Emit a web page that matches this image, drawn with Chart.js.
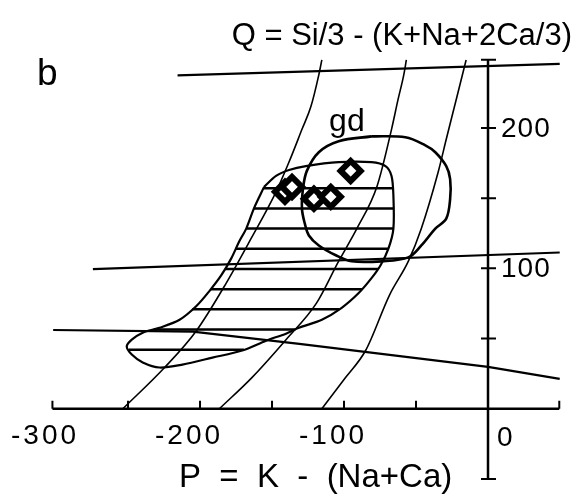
<!DOCTYPE html>
<html>
<head>
<meta charset="utf-8">
<script src="https://cdn.jsdelivr.net/npm/chart.js@4.4.1/dist/chart.umd.min.js"></script>
<style>
  html, body { margin: 0; padding: 0; background: #fff; }
  #wrap { width: 576px; height: 495px; }
</style>
</head>
<body>
<div id="wrap"><canvas id="chart" width="576" height="495"></canvas></div>
<script>
// ---- data: [P, Q] pairs ----
const curveA = [[-253.6,0],[-224.6,29.4],[-202.5,55.6],[-181.8,89.5],[-164.5,121.3],[-147.2,154.5],[-138.2,175.7],[-129.2,199.0],[-123.0,215.2],[-117.5,237.8],[-115.4,248.4]];
const curveB = [[-186.6,0],[-163.8,22.4],[-140.3,49.2],[-119.0,75.4],[-103.7,105.1],[-91.0,128.4],[-77.0,158.7],[-67.0,199.0],[-62.5,220.1],[-58.5,237.8],[-56.7,248.4]];
const curveC = [[-115.4,0],[-98.8,22.4],[-85.0,41.5],[-68.4,81.0],[-55.3,105.1],[-46.3,128.4],[-34.6,168.6],[-29.0,191.9],[-22.1,220.1],[-15.2,248.4]];

const topLine = [[-215.6,237.4],[49.8,245.6]];
const midLine = [[-274.4,99.4],[49.8,111.3]];
const lowLine = [[-302,56.1],[-205,55.0],[-131,46.2],[0,29.8],[49.8,21.3]];

// gd field outline
const gdField = [[-80.9,194.0],[-57.4,193.3],[-43.5,187.6],[-36.6,182.7],[-29.0,172.8],[-26.3,163.6],[-26.3,149.5],[-29.0,135.4],[-36.6,128.3],[-46.3,116.3],[-55.3,107.8],[-73.9,105.0],[-94.7,105.0],[-105.7,109.3],[-117.5,116.3],[-124.4,123.4],[-127.2,131.8],[-129.2,142.4],[-128.5,156.6],[-125.8,169.4],[-117.5,182.7],[-103.7,190.5],[-80.9,194.0]];

// hatched field outline
const hatchField = [[-155.5,158.0],[-147.2,165.8],[-138.2,170.0],[-126.5,172.8],[-103.7,175.6],[-80.9,175.6],[-71.2,172.8],[-67.0,165.8],[-65.7,151.6],[-65.7,128.3],[-69.1,114.2],[-74.6,102.2],[-80.9,93.0],[-89.8,82.4],[-101.6,71.9],[-115.4,63.4],[-131.3,57.7],[-140.3,53.5],[-154.1,48.5],[-170.7,41.5],[-191.4,36.4],[-212.2,31.5],[-228.1,29.4],[-239.8,33.0],[-247.4,38.6],[-250.9,44.3],[-247.4,49.2],[-239.8,54.2],[-228.1,57.7],[-214.2,63.4],[-202.5,73.2],[-193.5,83.8],[-185.2,95.1],[-178.3,107.1],[-172.8,119.1],[-167.9,128.3],[-162.4,143.1],[-155.5,158.0]];
const hatchLevels = [42.0, 56.5, 70.8, 85.1, 99.5, 113.9, 128.3, 142.7, 157.0];

// samples
const sampleP = [-141.0, -136.1, -120.9, -109.2, -95.4];
const sampleQ = [154.5, 158.0, 149.5, 150.9, 169.4];

// axes
const xAxisRange = [-302.5, 49.5];
const yAxisRange = [-50, 248.5];
const xTickValues = [-250, -200, -150, -100, -50];
const yTickValues = [50, 100, 150, 200];
const xTickLabels = [-300, -200, -100];
const yTickLabels = [100, 200];

const toPts = arr => arr.map(([x, y]) => ({ x, y }));

// horizontal hatch segments clipped to the field outline
function hatchSegments() {
	const out = [];
	hatchLevels.forEach(q => {
		const xs = [];
		for (let i = 0; i < hatchField.length - 1; i++) {
			const [x1, y1] = hatchField[i], [x2, y2] = hatchField[i + 1];
			if ((y1 - q) * (y2 - q) < 0 || (y1 === q && y2 !== q)) {
				xs.push(x1 + (q - y1) * (x2 - x1) / (y2 - y1));
			}
		}
		xs.sort((a, b) => a - b);
		for (let k = 0; k + 1 < xs.length; k += 2) {
			out.push({ x: xs[k], y: q }, { x: xs[k + 1], y: q }, { x: xs[k + 1], y: null });
		}
	});
	return out;
}

const FONT = '"Liberation Sans", Arial, sans-serif';

const lineDs = (data, width, extra = {}) => Object.assign({
	data, showLine: true, borderColor: '#000', borderWidth: width,
	pointRadius: 0, pointHoverRadius: 0, fill: false, clip: false, tension: 0
}, extra);

const textPlugin = {
	id: 'diagramText',
	afterDatasetsDraw(chart) {
		const { ctx, scales: { x, y } } = chart;
		const x0 = x.getPixelForValue(0), y0 = y.getPixelForValue(0);
		ctx.save();
		ctx.strokeStyle = '#000';
		ctx.lineCap = 'butt';

		// axis lines
		ctx.lineWidth = 2.5;
		ctx.beginPath();
		ctx.moveTo(x.getPixelForValue(xAxisRange[0]), y0);
		ctx.lineTo(x.getPixelForValue(xAxisRange[1]), y0);
		ctx.moveTo(x0, y.getPixelForValue(yAxisRange[0]));
		ctx.lineTo(x0, y.getPixelForValue(yAxisRange[1]));
		ctx.stroke();

		// ticks
		ctx.lineWidth = 2;
		ctx.beginPath();
		[...xTickValues, ...xAxisRange].forEach(v => {
			const px = x.getPixelForValue(v);
			ctx.moveTo(px, y0);
			ctx.lineTo(px, y0 - 8);
		});
		[...yTickValues, ...yAxisRange].forEach(v => {
			const py = y.getPixelForValue(v);
			ctx.moveTo(x0 - 7, py);
			ctx.lineTo(x0 + 8, py);
		});
		ctx.stroke();

		ctx.fillStyle = '#000';
		ctx.textBaseline = 'middle';

		// tick labels
		ctx.font = '28px ' + FONT;
		ctx.letterSpacing = '3px';
		ctx.textAlign = 'center';
		xTickLabels.forEach(v => ctx.fillText(String(v), x.getPixelForValue(v) - 11, y0 + 27));
		ctx.textAlign = 'left';
		ctx.fillText('0', x0 + 9, y0 + 29);
		ctx.letterSpacing = '1px';
		yTickLabels.forEach(v => ctx.fillText(String(v), x0 + 13, y.getPixelForValue(v) + 1));
		ctx.letterSpacing = '0px';

		// field label
		ctx.font = '32px ' + FONT;
		ctx.textAlign = 'center';
		ctx.textBaseline = 'alphabetic';
		ctx.fillText('gd', x.getPixelForValue(-98), y.getPixelForValue(198));

		// axis titles and panel letter
		ctx.textAlign = 'right';
		ctx.font = '31px ' + FONT;
		ctx.fillText('Q = Si/3 - (K+Na+2Ca/3)', 572, 45);
		ctx.textAlign = 'left';
		ctx.font = '33px ' + FONT;
		ctx.fillText('P  =  K  -  (Na+Ca)', 179, 487);
		ctx.font = '37px ' + FONT;
		ctx.fillText('b', 37, 85);
		ctx.restore();
	}
};

new Chart(document.getElementById('chart'), {
	type: 'scatter',
	data: {
		datasets: [
			{
				data: sampleP.map((p, i) => ({ x: p, y: sampleQ[i] })),
				pointStyle: 'rectRot', pointRadius: 10, pointHoverRadius: 10,
				pointBorderWidth: 6, pointBackgroundColor: '#fff', pointBorderColor: '#000',
				clip: false
			},
			lineDs(hatchSegments(), 2.5, { spanGaps: false }),
			lineDs(toPts(hatchField), 2.2, { tension: 0.3 }),
			lineDs(toPts(gdField), 2.6, { tension: 0.35 }),
			lineDs(toPts(curveA), 1.6, { cubicInterpolationMode: 'monotone' }),
			lineDs(toPts(curveB), 1.6, { cubicInterpolationMode: 'monotone' }),
			lineDs(toPts(curveC), 1.6, { cubicInterpolationMode: 'monotone' }),
			lineDs(toPts(topLine), 2.2),
			lineDs(toPts(midLine), 2.2),
			lineDs(toPts(lowLine), 2.2)
		]
	},
	options: {
		responsive: false,
		animation: false,
		events: [],
		layout: { padding: { left: 52, right: 13.6, top: 57.7, bottom: 12.5 } },
		plugins: { legend: { display: false }, tooltip: { enabled: false }, title: { display: false } },
		scales: {
			x: { type: 'linear', min: -302.8, max: 50, display: false },
			y: { type: 'linear', min: -50, max: 250, display: false }
		}
	},
	plugins: [textPlugin]
});
</script>
</body>
</html>
